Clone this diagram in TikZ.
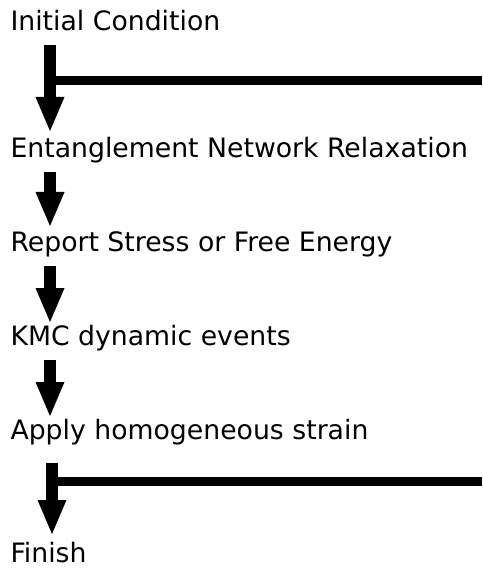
\documentclass[tikz,border=0pt]{standalone}
\usepackage{fontspec}
\setmainfont{DejaVu Sans}
\usetikzlibrary{arrows.meta}
\begin{document}
\begin{tikzpicture}[x=1pt,y=-1pt,
  lbl/.style={anchor=base west,inner sep=0pt,font=\fontsize{26.7pt}{30pt}\selectfont},
  flow/.style={line width=12.5pt,-{Triangle[length=34pt,width=29pt,line width=0pt]}},
  loopline/.style={line width=9pt}]
\useasboundingbox (0,0) rectangle (482,569);
\node[lbl] (n1) at (10.3,31) {Initial Condition};
\node[lbl] (n2) at (10.3,157.5) {Entanglement Network Relaxation};
\node[lbl] (n3) at (10.3,251.5) {Report Stress or Free Energy};
\node[lbl] (n4) at (10.3,345.5) {KMC dynamic events};
\node[lbl] (n5) at (10.3,439.5) {Apply homogeneous strain};
\node[lbl] (n6) at (10.3,562.5) {Finish};
% arrow endpoints
\coordinate (a1s) at (50,45);   \coordinate (a1e) at (50,131);
\coordinate (a2s) at (50,172);  \coordinate (a2e) at (50,226);
\coordinate (a3s) at (50,266);  \coordinate (a3e) at (50,322);
\coordinate (a4s) at (50,360);  \coordinate (a4e) at (50,416);
\coordinate (a5s) at (52,463);  \coordinate (a5e) at (52,534);
\coordinate (j1) at (50,81);  \coordinate (r1) at (482,81);
\coordinate (j5) at (52,481); \coordinate (r5) at (482,481);
\draw[loopline] (r1) -- (j1);
\draw[loopline] (r5) -- (j5);
\draw[flow] (a1s) -- (a1e);
\draw[flow] (a2s) -- (a2e);
\draw[flow] (a3s) -- (a3e);
\draw[flow] (a4s) -- (a4e);
\draw[flow] (a5s) -- (a5e);
\end{tikzpicture}
\end{document}
